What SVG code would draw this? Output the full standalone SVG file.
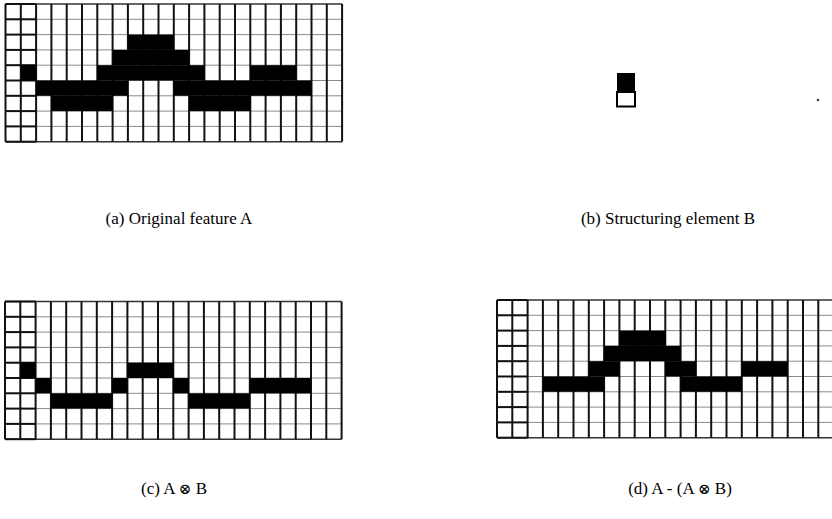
<svg xmlns="http://www.w3.org/2000/svg" xmlns:xlink="http://www.w3.org/1999/xlink" width="832" height="519" viewBox="0 0 832 519">
<style>
.v{stroke:#111;stroke-width:2}
.h{stroke:#8a8a8a;stroke-width:1}
.hb{stroke:#111;stroke-width:2}
.edge{stroke:#333;stroke-width:1.5}
.cell{fill:#000}
.lbl{font-family:"Liberation Serif","DejaVu Serif",serif;font-size:17px;fill:#000;text-anchor:middle}
.op{font-family:"DejaVu Serif",serif;font-size:15px}
</style>
<defs>
<g id="grid" fill="none">
<g class="h">
<line x1="0" y1="15.3" x2="336.6" y2="15.3"/>
<line x1="0" y1="30.6" x2="336.6" y2="30.6"/>
<line x1="0" y1="45.9" x2="336.6" y2="45.9"/>
<line x1="0" y1="61.2" x2="336.6" y2="61.2"/>
<line x1="0" y1="76.5" x2="336.6" y2="76.5"/>
<line x1="0" y1="91.8" x2="336.6" y2="91.8"/>
<line x1="0" y1="107.1" x2="336.6" y2="107.1"/>
<line x1="0" y1="122.4" x2="336.6" y2="122.4"/>
</g>
<g class="edge">
<line x1="0" y1="0" x2="336.6" y2="0"/>
<line x1="0" y1="137.7" x2="336.6" y2="137.7"/>
</g>
<g class="hb">
<line x1="0" y1="0" x2="30.6" y2="0"/>
<line x1="0" y1="15.3" x2="30.6" y2="15.3"/>
<line x1="0" y1="30.6" x2="30.6" y2="30.6"/>
<line x1="0" y1="45.9" x2="30.6" y2="45.9"/>
<line x1="0" y1="61.2" x2="30.6" y2="61.2"/>
<line x1="0" y1="76.5" x2="30.6" y2="76.5"/>
<line x1="0" y1="91.8" x2="30.6" y2="91.8"/>
<line x1="0" y1="107.1" x2="30.6" y2="107.1"/>
<line x1="0" y1="122.4" x2="30.6" y2="122.4"/>
<line x1="0" y1="137.7" x2="30.6" y2="137.7"/>
</g>
<g class="v">
<line x1="0" y1="0" x2="0" y2="137.7"/>
<line x1="15.3" y1="0" x2="15.3" y2="137.7"/>
<line x1="30.6" y1="0" x2="30.6" y2="137.7"/>
<line x1="45.9" y1="0" x2="45.9" y2="137.7"/>
<line x1="61.2" y1="0" x2="61.2" y2="137.7"/>
<line x1="76.5" y1="0" x2="76.5" y2="137.7"/>
<line x1="91.8" y1="0" x2="91.8" y2="137.7"/>
<line x1="107.1" y1="0" x2="107.1" y2="137.7"/>
<line x1="122.4" y1="0" x2="122.4" y2="137.7"/>
<line x1="137.7" y1="0" x2="137.7" y2="137.7"/>
<line x1="153" y1="0" x2="153" y2="137.7"/>
<line x1="168.3" y1="0" x2="168.3" y2="137.7"/>
<line x1="183.6" y1="0" x2="183.6" y2="137.7"/>
<line x1="198.9" y1="0" x2="198.9" y2="137.7"/>
<line x1="214.2" y1="0" x2="214.2" y2="137.7"/>
<line x1="229.5" y1="0" x2="229.5" y2="137.7"/>
<line x1="244.8" y1="0" x2="244.8" y2="137.7"/>
<line x1="260.1" y1="0" x2="260.1" y2="137.7"/>
<line x1="275.4" y1="0" x2="275.4" y2="137.7"/>
<line x1="290.7" y1="0" x2="290.7" y2="137.7"/>
<line x1="306" y1="0" x2="306" y2="137.7"/>
<line x1="321.3" y1="0" x2="321.3" y2="137.7"/>
<line x1="336.6" y1="0" x2="336.6" y2="137.7"/>
</g>
</g>
</defs>
<rect width="832" height="519" fill="#fff"/>

<g id="panel-a">
<g transform="translate(5.5,4)">
<use href="#grid" xlink:href="#grid"/>
<g class="cell">
<rect x="122.4" y="30.6" width="45.9" height="15.3"/>
<rect x="107.1" y="45.9" width="76.5" height="15.3"/>
<rect x="15.3" y="61.2" width="15.3" height="15.3"/>
<rect x="91.8" y="61.2" width="107.1" height="15.3"/>
<rect x="244.8" y="61.2" width="45.9" height="15.3"/>
<rect x="30.6" y="76.5" width="91.8" height="15.3"/>
<rect x="168.3" y="76.5" width="137.7" height="15.3"/>
<rect x="45.9" y="91.8" width="61.2" height="15.3"/>
<rect x="183.6" y="91.8" width="61.2" height="15.3"/>
</g>
</g>
<text class="lbl" x="179" y="224">(a) Original feature A</text>
</g>

<g id="panel-b">
<rect x="617" y="73" width="18" height="19" fill="#000"/>
<rect x="617" y="92" width="18" height="14.5" fill="#fff" stroke="#000" stroke-width="2"/>
<text class="lbl" x="668" y="224">(b) Structuring element B</text>
<circle cx="818" cy="100" r="1.2" fill="#333"/>
</g>

<g id="panel-c">
<g transform="translate(5,301.5)">
<use href="#grid" xlink:href="#grid"/>
<g class="cell">
<rect x="15.3" y="61.2" width="15.3" height="15.3"/>
<rect x="30.6" y="76.5" width="15.3" height="15.3"/>
<rect x="45.9" y="91.8" width="61.2" height="15.3"/>
<rect x="107.1" y="76.5" width="15.3" height="15.3"/>
<rect x="122.4" y="61.2" width="45.9" height="15.3"/>
<rect x="168.3" y="76.5" width="15.3" height="15.3"/>
<rect x="183.6" y="91.8" width="61.2" height="15.3"/>
<rect x="244.8" y="76.5" width="61.2" height="15.3"/>
</g>
</g>
<text class="lbl" x="174" y="494">(c) A <tspan class="op">⊗</tspan> B</text>
</g>

<g id="panel-d">
<g transform="translate(497,300)">
<use href="#grid" xlink:href="#grid"/>
<g class="cell">
<rect x="122.4" y="30.6" width="45.9" height="15.3"/>
<rect x="107.1" y="45.9" width="76.5" height="15.3"/>
<rect x="91.8" y="61.2" width="30.6" height="15.3"/>
<rect x="168.3" y="61.2" width="30.6" height="15.3"/>
<rect x="244.8" y="61.2" width="45.9" height="15.3"/>
<rect x="45.9" y="76.5" width="61.2" height="15.3"/>
<rect x="183.6" y="76.5" width="61.2" height="15.3"/>
</g>
</g>
<text class="lbl" x="680" y="494">(d) A - (A <tspan class="op">⊗</tspan> B)</text>
</g>
</svg>
